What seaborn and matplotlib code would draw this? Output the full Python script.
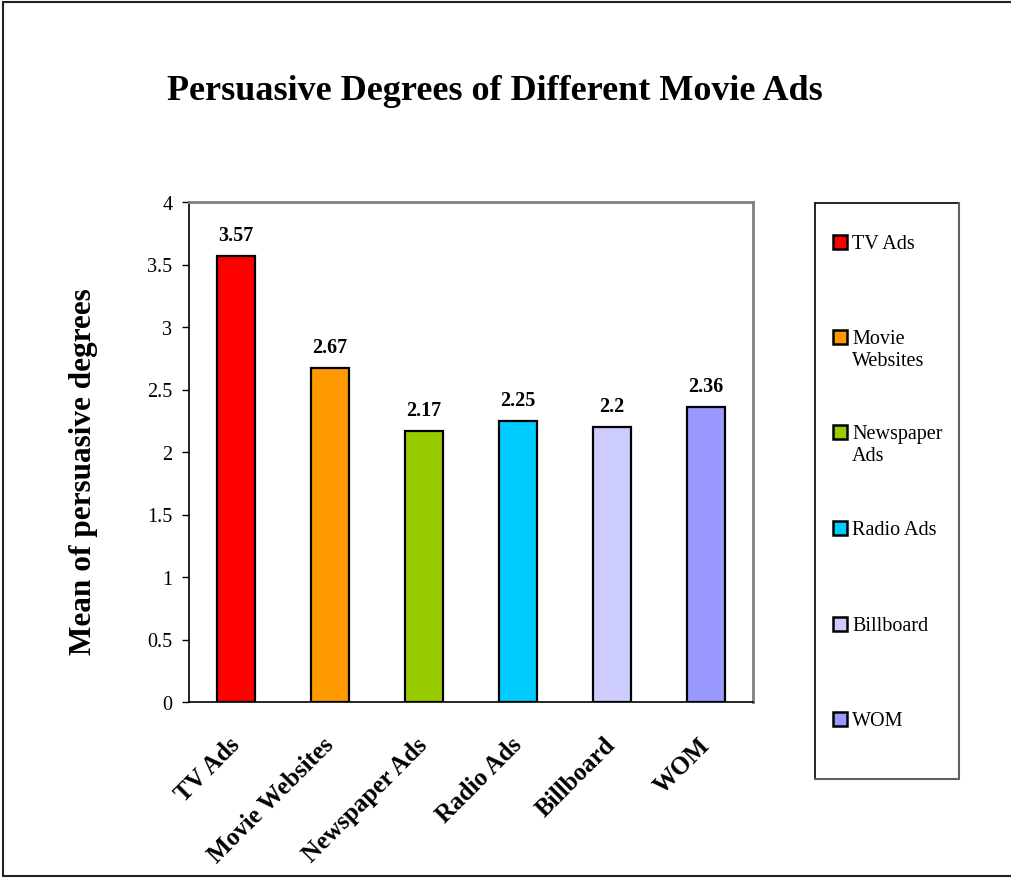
import matplotlib
matplotlib.use("Agg")
import matplotlib.pyplot as plt
from matplotlib.patches import Rectangle
from matplotlib.lines import Line2D
import seaborn as sns
import pandas as pd

# Chart data
categories = ["TV Ads", "Movie Websites", "Newspaper Ads", "Radio Ads", "Billboard", "WOM"]
legend_labels = ["TV Ads", "Movie\nWebsites", "Newspaper\nAds", "Radio Ads", "Billboard", "WOM"]
means = [3.57, 2.67, 2.17, 2.25, 2.2, 2.36]
value_labels = ["3.57", "2.67", "2.17", "2.25", "2.2", "2.36"]
colors = ["#FF0000", "#FF9900", "#99CC00", "#00CCFF", "#CCCCFF", "#9999FF"]
y_ticks = [0, 0.5, 1, 1.5, 2, 2.5, 3, 3.5, 4]
y_tick_labels = ["0", "0.5", "1", "1.5", "2", "2.5", "3", "3.5", "4"]

sns.set_style("white")
plt.rcParams["font.family"] = ["Liberation Serif", "DejaVu Serif"]
plt.rcParams["text.color"] = "black"
plt.rcParams["xtick.color"] = "black"
plt.rcParams["ytick.color"] = "black"
plt.rcParams["axes.labelcolor"] = "black"

W, H = 1011, 879
fig = plt.figure(figsize=(W / 100, H / 100), dpi=100)


def fx(px):
    return px / W


def fy(py):
    return 1 - py / H


# plot area
left, right, top, bottom = 189, 753, 203, 703
ax = fig.add_axes([fx(left), fy(bottom), fx(right - left), (bottom - top) / H])

df = pd.DataFrame({"category": categories, "mean": means})
sns.barplot(data=df, x="category", y="mean", hue="category", palette=colors,
            order=categories, hue_order=categories, width=0.41, dodge=False,
            legend=False, edgecolor="black", linewidth=1.6, saturation=1, ax=ax)

ax.set_xlim(-0.5, len(categories) - 0.5)
ax.set_ylim(0, 4)
ax.set_yticks(y_ticks)
ax.set_yticklabels(y_tick_labels, fontsize=14.5)
ax.set_xticks(range(len(categories)))
ax.set_xticklabels(categories, fontsize=18, fontweight="bold", rotation=45,
                   ha="right", va="center", rotation_mode="anchor")
ax.set_xticks([i + 0.5 for i in range(-1, len(categories))], minor=True)
ax.tick_params(axis="x", which="major", length=0, pad=28)
ax.tick_params(axis="x", which="minor", direction="in", length=5, width=1, color="black")
ax.tick_params(axis="y", which="major", direction="out", length=5, width=1,
               color="black", pad=7, left=True)
ax.set_xlabel("")
ax.set_ylabel("")

for side in ["left", "bottom"]:
    ax.spines[side].set_color("black")
    ax.spines[side].set_linewidth(1.2)
for side in ["top", "right"]:
    ax.spines[side].set_color("#808080")
    ax.spines[side].set_linewidth(2)

# value labels above bars
for i, (v, lab) in enumerate(zip(means, value_labels)):
    ax.annotate(lab, xy=(i, v), xytext=(0, 11.5), textcoords="offset points",
                ha="center", va="baseline", fontsize=14.5, fontweight="bold")

# title and y-axis label
fig.text(fx(495), fy(92), "Persuasive Degrees of Different Movie Ads",
         ha="center", va="center", fontsize=26, fontweight="bold")
fig.text(fx(84), fy(472), "Mean of persuasive degrees", rotation=90,
         ha="center", va="center", fontsize=22.5, fontweight="bold")

# legend box
lx0, lx1, ly0, ly1 = 815, 959, 204, 780
fig.add_artist(Line2D([fx(lx0), fx(lx1)], [fy(ly0), fy(ly0)], color="black", lw=1.2))
fig.add_artist(Line2D([fx(lx0), fx(lx0)], [fy(ly0), fy(ly1)], color="black", lw=1.2))
fig.add_artist(Line2D([fx(lx1), fx(lx1)], [fy(ly0), fy(ly1)], color="#606060", lw=1.5))
fig.add_artist(Line2D([fx(lx0), fx(lx1)], [fy(ly1), fy(ly1)], color="#606060", lw=1.5))

entry_y = [242, 337, 432, 528, 624, 719]
for yy, lab, col in zip(entry_y, legend_labels, colors):
    fig.add_artist(Rectangle((fx(833), fy(yy + 8)), fx(14), 14 / H,
                             facecolor=col, edgecolor="black", linewidth=1.8))
    fig.text(fx(852), fy(yy - 7), lab, ha="left", va="top", fontsize=14.5,
             linespacing=1.25)

# outer frame
fig.add_artist(Line2D([fx(3), fx(3)], [fy(3), fy(877)], color="#222222", lw=1.5))
fig.add_artist(Line2D([fx(3), fx(1011)], [fy(3), fy(3)], color="#222222", lw=1.5))
fig.add_artist(Line2D([fx(3), fx(1011)], [fy(877), fy(877)], color="#222222", lw=1.5))

fig.savefig("out.png", dpi=100)
